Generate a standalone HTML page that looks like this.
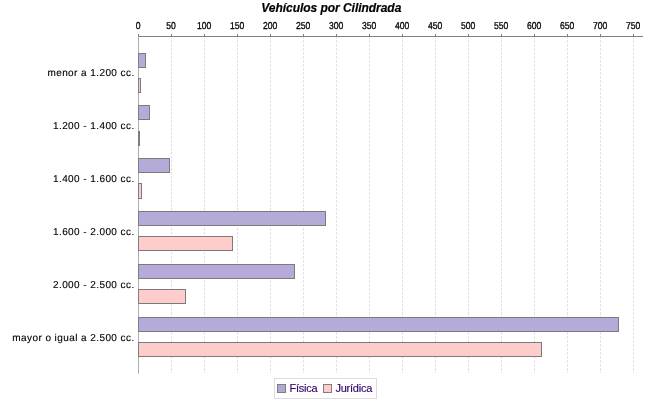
<!DOCTYPE html>
<html lang="es"><head><meta charset="utf-8"><title>Vehículos por Cilindrada</title>
<style>
html,body{margin:0;padding:0;background:#fff;}
body{width:650px;height:400px;overflow:hidden;font-family:"Liberation Sans",sans-serif;}
svg{display:block;}
.title{font:italic bold 12px "Liberation Sans",sans-serif;fill:#000;stroke:#000;stroke-width:0.2px;letter-spacing:-0.04px;}
.tick{font:10px "Liberation Sans",sans-serif;fill:#000;stroke:#000;stroke-width:0.3px;text-rendering:geometricPrecision;}
.cat{font:10px "Liberation Sans",sans-serif;fill:#000;letter-spacing:0.42px;stroke:#000;stroke-width:0.12px;text-rendering:geometricPrecision;}
.leg{font:11px "Liberation Sans",sans-serif;fill:#33006a;stroke:#33006a;stroke-width:0.15px;letter-spacing:-0.25px;}
</style></head><body>
<svg width="650" height="400" viewBox="0 0 650 400">
<rect width="650" height="400" fill="#fff"/>
<text class="title" x="331.3" y="11.6" text-anchor="middle">Vehículos por Cilindrada</text>
<line x1="171.50" y1="36.4" x2="171.50" y2="373.0" stroke="#d6d6d6" stroke-width="1" stroke-dasharray="2,2"/>
<line x1="204.50" y1="36.4" x2="204.50" y2="373.0" stroke="#d6d6d6" stroke-width="1" stroke-dasharray="2,2"/>
<line x1="237.50" y1="36.4" x2="237.50" y2="373.0" stroke="#d6d6d6" stroke-width="1" stroke-dasharray="2,2"/>
<line x1="270.50" y1="36.4" x2="270.50" y2="373.0" stroke="#d6d6d6" stroke-width="1" stroke-dasharray="2,2"/>
<line x1="303.50" y1="36.4" x2="303.50" y2="373.0" stroke="#d6d6d6" stroke-width="1" stroke-dasharray="2,2"/>
<line x1="336.50" y1="36.4" x2="336.50" y2="373.0" stroke="#d6d6d6" stroke-width="1" stroke-dasharray="2,2"/>
<line x1="369.50" y1="36.4" x2="369.50" y2="373.0" stroke="#d6d6d6" stroke-width="1" stroke-dasharray="2,2"/>
<line x1="402.50" y1="36.4" x2="402.50" y2="373.0" stroke="#d6d6d6" stroke-width="1" stroke-dasharray="2,2"/>
<line x1="435.50" y1="36.4" x2="435.50" y2="373.0" stroke="#d6d6d6" stroke-width="1" stroke-dasharray="2,2"/>
<line x1="468.50" y1="36.4" x2="468.50" y2="373.0" stroke="#d6d6d6" stroke-width="1" stroke-dasharray="2,2"/>
<line x1="501.50" y1="36.4" x2="501.50" y2="373.0" stroke="#d6d6d6" stroke-width="1" stroke-dasharray="2,2"/>
<line x1="534.50" y1="36.4" x2="534.50" y2="373.0" stroke="#d6d6d6" stroke-width="1" stroke-dasharray="2,2"/>
<line x1="567.50" y1="36.4" x2="567.50" y2="373.0" stroke="#d6d6d6" stroke-width="1" stroke-dasharray="2,2"/>
<line x1="600.50" y1="36.4" x2="600.50" y2="373.0" stroke="#d6d6d6" stroke-width="1" stroke-dasharray="2,2"/>
<line x1="633.50" y1="36.4" x2="633.50" y2="373.0" stroke="#d6d6d6" stroke-width="1" stroke-dasharray="2,2"/>
<rect x="138.5" y="53.5" width="7" height="14" fill="#b6abd8" stroke="#7b7b7b" stroke-width="1"/>
<rect x="138.5" y="78.5" width="2" height="14" fill="#ffcccc" stroke="#7b7b7b" stroke-width="1"/>
<rect x="138.5" y="105.5" width="11" height="14" fill="#b6abd8" stroke="#7b7b7b" stroke-width="1"/>
<rect x="138.5" y="131.5" width="1" height="14" fill="#ffcccc" stroke="#7b7b7b" stroke-width="1"/>
<rect x="138.5" y="158.5" width="31" height="14" fill="#b6abd8" stroke="#7b7b7b" stroke-width="1"/>
<rect x="138.5" y="183.5" width="3" height="15" fill="#ffcccc" stroke="#7b7b7b" stroke-width="1"/>
<rect x="138.5" y="211.5" width="187" height="14" fill="#b6abd8" stroke="#7b7b7b" stroke-width="1"/>
<rect x="138.5" y="236.5" width="94" height="14" fill="#ffcccc" stroke="#7b7b7b" stroke-width="1"/>
<rect x="138.5" y="264.5" width="156" height="14" fill="#b6abd8" stroke="#7b7b7b" stroke-width="1"/>
<rect x="138.5" y="289.5" width="47" height="14" fill="#ffcccc" stroke="#7b7b7b" stroke-width="1"/>
<rect x="138.5" y="317.5" width="480" height="14" fill="#b6abd8" stroke="#7b7b7b" stroke-width="1"/>
<rect x="138.5" y="342.5" width="403" height="14" fill="#ffcccc" stroke="#7b7b7b" stroke-width="1"/>
<line x1="138.5" y1="36.5" x2="643" y2="36.5" stroke="#808080" stroke-width="1"/>
<line x1="138.5" y1="36.5" x2="138.5" y2="373.8" stroke="#808080" stroke-width="0.65"/>
<line x1="138.50" y1="34.0" x2="138.50" y2="36.5" stroke="#808080" stroke-width="1"/>
<text class="tick" transform="translate(138.10,29) scale(0.86,1)" text-anchor="middle">0</text>
<line x1="171.50" y1="34.0" x2="171.50" y2="36.5" stroke="#808080" stroke-width="1"/>
<text class="tick" transform="translate(171.10,29) scale(0.86,1)" text-anchor="middle">50</text>
<line x1="204.50" y1="34.0" x2="204.50" y2="36.5" stroke="#808080" stroke-width="1"/>
<text class="tick" transform="translate(204.10,29) scale(0.86,1)" text-anchor="middle">100</text>
<line x1="237.50" y1="34.0" x2="237.50" y2="36.5" stroke="#808080" stroke-width="1"/>
<text class="tick" transform="translate(237.10,29) scale(0.86,1)" text-anchor="middle">150</text>
<line x1="270.50" y1="34.0" x2="270.50" y2="36.5" stroke="#808080" stroke-width="1"/>
<text class="tick" transform="translate(270.10,29) scale(0.86,1)" text-anchor="middle">200</text>
<line x1="303.50" y1="34.0" x2="303.50" y2="36.5" stroke="#808080" stroke-width="1"/>
<text class="tick" transform="translate(303.10,29) scale(0.86,1)" text-anchor="middle">250</text>
<line x1="336.50" y1="34.0" x2="336.50" y2="36.5" stroke="#808080" stroke-width="1"/>
<text class="tick" transform="translate(336.10,29) scale(0.86,1)" text-anchor="middle">300</text>
<line x1="369.50" y1="34.0" x2="369.50" y2="36.5" stroke="#808080" stroke-width="1"/>
<text class="tick" transform="translate(369.10,29) scale(0.86,1)" text-anchor="middle">350</text>
<line x1="402.50" y1="34.0" x2="402.50" y2="36.5" stroke="#808080" stroke-width="1"/>
<text class="tick" transform="translate(402.10,29) scale(0.86,1)" text-anchor="middle">400</text>
<line x1="435.50" y1="34.0" x2="435.50" y2="36.5" stroke="#808080" stroke-width="1"/>
<text class="tick" transform="translate(435.10,29) scale(0.86,1)" text-anchor="middle">450</text>
<line x1="468.50" y1="34.0" x2="468.50" y2="36.5" stroke="#808080" stroke-width="1"/>
<text class="tick" transform="translate(468.10,29) scale(0.86,1)" text-anchor="middle">500</text>
<line x1="501.50" y1="34.0" x2="501.50" y2="36.5" stroke="#808080" stroke-width="1"/>
<text class="tick" transform="translate(501.10,29) scale(0.86,1)" text-anchor="middle">550</text>
<line x1="534.50" y1="34.0" x2="534.50" y2="36.5" stroke="#808080" stroke-width="1"/>
<text class="tick" transform="translate(534.10,29) scale(0.86,1)" text-anchor="middle">600</text>
<line x1="567.50" y1="34.0" x2="567.50" y2="36.5" stroke="#808080" stroke-width="1"/>
<text class="tick" transform="translate(567.10,29) scale(0.86,1)" text-anchor="middle">650</text>
<line x1="600.50" y1="34.0" x2="600.50" y2="36.5" stroke="#808080" stroke-width="1"/>
<text class="tick" transform="translate(600.10,29) scale(0.86,1)" text-anchor="middle">700</text>
<line x1="633.50" y1="34.0" x2="633.50" y2="36.5" stroke="#808080" stroke-width="1"/>
<text class="tick" transform="translate(633.10,29) scale(0.86,1)" text-anchor="middle">750</text>
<text class="cat" x="134.6" y="76" text-anchor="end">menor a 1.200 cc.</text>
<text class="cat" x="134.6" y="129" text-anchor="end">1.200 - 1.400 cc.</text>
<text class="cat" x="134.6" y="182" text-anchor="end">1.400 - 1.600 cc.</text>
<text class="cat" x="134.6" y="235" text-anchor="end">1.600 - 2.000 cc.</text>
<text class="cat" x="134.6" y="288" text-anchor="end">2.000 - 2.500 cc.</text>
<text class="cat" x="134.6" y="341" text-anchor="end">mayor o igual a 2.500 cc.</text>
<rect x="274.5" y="378.5" width="102" height="20" fill="#fff" stroke="#dcdcdc" stroke-width="1"/>
<rect x="277.5" y="384.5" width="8" height="8" fill="#b4a7d6" stroke="#7f7f7f" stroke-width="1"/>
<text class="leg" x="289.5" y="392">Física</text>
<rect x="323.5" y="384.5" width="8" height="8" fill="#ffcccc" stroke="#7f7f7f" stroke-width="1"/>
<text class="leg" x="335.5" y="392">Jurídica</text>
</svg></body></html>
